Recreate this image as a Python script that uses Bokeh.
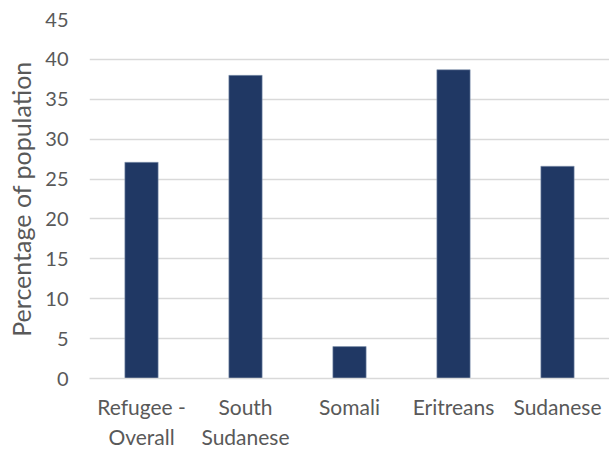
from bokeh.plotting import figure
from bokeh.models import FactorRange, Range1d, SingleIntervalTicker
from bokeh.embed import file_html
from bokeh.resources import INLINE

categories = ["Refugee -\nOverall", "South\nSudanese", "Somali", "Eritreans", "Sudanese"]
values = [27.1, 38.0, 4.0, 38.7, 26.6]

FONT = "Lato"
GREY = "#595959"

p = figure(x_range=FactorRange(*categories, range_padding=0), y_range=Range1d(0, 45),
           width=609, height=452, output_backend="svg", toolbar_location=None,
           min_border_left=89, min_border_right=0, min_border_top=19, min_border_bottom=0)
p.frame_width = 520
p.frame_height = 359
p.outline_line_color = None
p.background_fill_color = None

p.vbar(x=categories, top=values, width=0.32, color="#203864", line_color="#8497B0", line_width=0.6)

p.yaxis.ticker = SingleIntervalTicker(interval=5)
p.yaxis.axis_line_color = None
p.yaxis.major_tick_line_color = None
p.yaxis.minor_tick_line_color = None
p.yaxis.major_label_standoff = 15
p.yaxis.major_label_text_font = FONT
p.yaxis.major_label_text_font_size = "20px"
p.yaxis.major_label_text_color = GREY
p.yaxis.axis_label = "Percentage of population"
p.yaxis.axis_label_text_font = FONT
p.yaxis.axis_label_text_font_size = "25px"
p.yaxis.axis_label_text_font_style = "normal"
p.yaxis.axis_label_text_color = GREY
p.yaxis.axis_label_standoff = 6

p.xaxis.axis_line_color = "#D9D9D9"
p.xaxis.axis_line_width = 1.5
p.xaxis.major_tick_line_color = None
p.xaxis.minor_tick_line_color = None
p.xaxis.major_label_standoff = 9
p.xaxis.major_label_text_font = FONT
p.xaxis.major_label_text_font_size = "21px"
p.xaxis.major_label_text_color = GREY

p.xgrid.grid_line_color = None
p.ygrid.grid_line_color = "#D9D9D9"
p.ygrid.grid_line_width = 1.5

open("out.html", "w").write(file_html(p, INLINE))
